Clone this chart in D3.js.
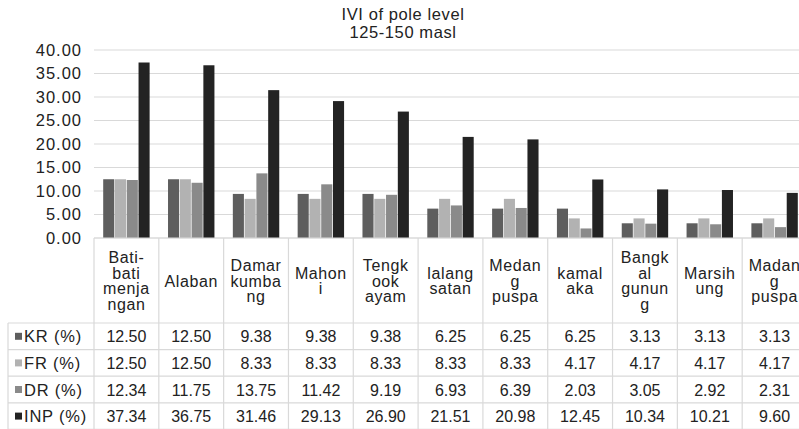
<!DOCTYPE html>
<html>
<head>
<meta charset="utf-8">
<script src="https://cdn.jsdelivr.net/npm/d3@7"></script>
<style>
    body { margin: 0; background: #fff; }
    svg { display: block; font-family: "Liberation Sans", Arial, sans-serif; }
</style>
</head>
<body>
<div id="chart"></div>
<script>
// Species (category) labels, already broken as in the original table header
const categories = [
    'Bati-bati menjangan', 'Alaban', 'Damar kumbang', 'Mahoni', 'Tengkook ayam',
    'lalang satan', 'Medang puspa', 'kamal aka', 'Bangkal gunung', 'Marsihung', 'Madang puspa'
];
const categoryLines = [
    ['Bati-', 'bati', 'menja', 'ngan'], ['Alaban'], ['Damar', 'kumba', 'ng'], ['Mahon', 'i'],
    ['Tengk', 'ook', 'ayam'], ['lalang', 'satan'], ['Medan', 'g', 'puspa'], ['kamal', 'aka'],
    ['Bangk', 'al', 'gunun', 'g'], ['Marsih', 'ung'], ['Madan', 'g', 'puspa']
];

const seriesNames = ['KR (%)', 'FR (%)', 'DR (%)', 'INP (%)'];
const krValues  = [12.50, 12.50, 9.38, 9.38, 9.38, 6.25, 6.25, 6.25, 3.13, 3.13, 3.13];
const frValues  = [12.50, 12.50, 8.33, 8.33, 8.33, 8.33, 8.33, 4.17, 4.17, 4.17, 4.17];
const drValues  = [12.34, 11.75, 13.75, 11.42, 9.19, 6.93, 6.39, 2.03, 3.05, 2.92, 2.31];
const inpValues = [37.34, 36.75, 31.46, 29.13, 26.90, 21.51, 20.98, 12.45, 10.34, 10.21, 9.60];
const yTicks = [0, 5, 10, 15, 20, 25, 30, 35, 40];

const seriesValues = [krValues, frValues, drValues, inpValues];
const colors = ['#5e5e5e', '#b2b2b2', '#8a8a8a', '#232323'];

const width = 799, height = 429;
const plotLeft = 94, plotRight = 807, plotTop = 50, plotBottom = 238;
const tableLeft = 8, headerBottom = 323, rowH = 26.6;
const gridColor = '#d9d9d9';

const svg = d3.select('#chart').append('svg')
    .attr('width', width)
    .attr('height', height);

// Title
svg.append('text')
    .attr('x', 403).attr('y', 20)
    .attr('text-anchor', 'middle')
    .style('font-size', '16.5px').style('letter-spacing', '0.6px').attr('fill', '#222')
    .selectAll('tspan')
    .data(['IVI of pole level', '125-150 masl'])
    .join('tspan')
    .attr('x', 403)
    .attr('dy', (d, i) => i === 0 ? 0 : 17.5)
    .text(d => d);

// Scales
const x = d3.scaleBand().domain(categories).range([plotLeft, plotRight]);
const xInner = d3.scaleBand().domain(seriesNames)
    .range([9.2, x.bandwidth() - 9.2]).paddingInner(0.06);
const y = d3.scaleLinear().domain([0, 40]).range([plotBottom, plotTop]);

// Gridlines
svg.append('g')
    .selectAll('line')
    .data(yTicks)
    .join('line')
    .attr('x1', plotLeft).attr('x2', plotRight)
    .attr('y1', d => y(d)).attr('y2', d => y(d))
    .attr('stroke', gridColor).attr('stroke-width', 1.2);

// Y axis labels
const yAxis = d3.axisLeft(y).tickValues(yTicks).tickFormat(d3.format('.2f')).tickSize(0).tickPadding(12);
const yG = svg.append('g').attr('transform', `translate(${plotLeft},0)`).call(yAxis);
yG.select('.domain').remove();
yG.selectAll('text')
    .style('font-size', '16.5px').style('letter-spacing', '1px')
    .attr('fill', '#222').attr('font-family', '"Liberation Sans", Arial, sans-serif');

// Bars
const groups = svg.append('g')
    .selectAll('g')
    .data(categories)
    .join('g')
    .attr('transform', d => `translate(${x(d)},0)`);

groups.selectAll('rect')
    .data((d, ci) => seriesNames.map((s, si) => ({ s, si, v: seriesValues[si][ci] })))
    .join('rect')
    .attr('x', d => xInner(d.s))
    .attr('width', xInner.bandwidth())
    .attr('y', d => y(d.v))
    .attr('height', d => plotBottom - y(d.v))
    .attr('fill', d => colors[d.si]);

// Data table grid
const table = svg.append('g');
const rowYs = seriesNames.map((s, i) => headerBottom + i * rowH);
const tableBottom = headerBottom + seriesNames.length * rowH;

table.append('line')
    .attr('x1', plotLeft).attr('x2', plotRight)
    .attr('y1', plotBottom).attr('y2', plotBottom)
    .attr('stroke', gridColor).attr('stroke-width', 1.2);
table.selectAll('line.h')
    .data(rowYs.concat([tableBottom]))
    .join('line')
    .attr('class', 'h')
    .attr('x1', tableLeft).attr('x2', plotRight)
    .attr('y1', d => d).attr('y2', d => d)
    .attr('stroke', gridColor).attr('stroke-width', 1.2);
table.selectAll('line.v')
    .data(categories.map(c => x(c)).concat([plotRight]))
    .join('line')
    .attr('class', 'v')
    .attr('x1', d => d).attr('x2', d => d)
    .attr('y1', plotBottom).attr('y2', tableBottom)
    .attr('stroke', gridColor).attr('stroke-width', 1.2);
table.append('line')
    .attr('x1', tableLeft).attr('x2', tableLeft)
    .attr('y1', headerBottom).attr('y2', tableBottom)
    .attr('stroke', gridColor).attr('stroke-width', 1.2);

// Category header labels
const headerMid = (plotBottom + headerBottom) / 2;
categories.forEach((c, ci) => {
    const lines = categoryLines[ci];
    const cx = x(c) + x.bandwidth() / 2;
    table.append('text')
        .attr('text-anchor', 'middle')
        .style('font-size', '16px').style('letter-spacing', '0.6px').attr('fill', '#222')
        .selectAll('tspan')
        .data(lines)
        .join('tspan')
        .attr('x', cx)
        .attr('y', (d, i) => headerMid + (i - (lines.length - 1) / 2) * 15.6 + 6)
        .text(d => d);
});

// Legend column and values
seriesNames.forEach((s, si) => {
    const cy = rowYs[si] + rowH / 2;
    table.append('rect')
        .attr('x', 15).attr('y', cy - 3.5)
        .attr('width', 7).attr('height', 7)
        .attr('fill', colors[si]);
    table.append('text')
        .attr('x', 24).attr('y', cy + 6)
        .style('font-size', '16.5px').style('letter-spacing', '0.8px').attr('fill', '#222')
        .text(s);
    table.selectAll(null)
        .data(categories)
        .enter()
        .append('text')
        .attr('x', d => x(d) + x.bandwidth() / 2)
        .attr('y', cy + 6)
        .attr('text-anchor', 'middle')
        .style('font-size', '16px').attr('fill', '#222')
        .text((d, ci) => seriesValues[si][ci].toFixed(2));
});
</script>
</body>
</html>
